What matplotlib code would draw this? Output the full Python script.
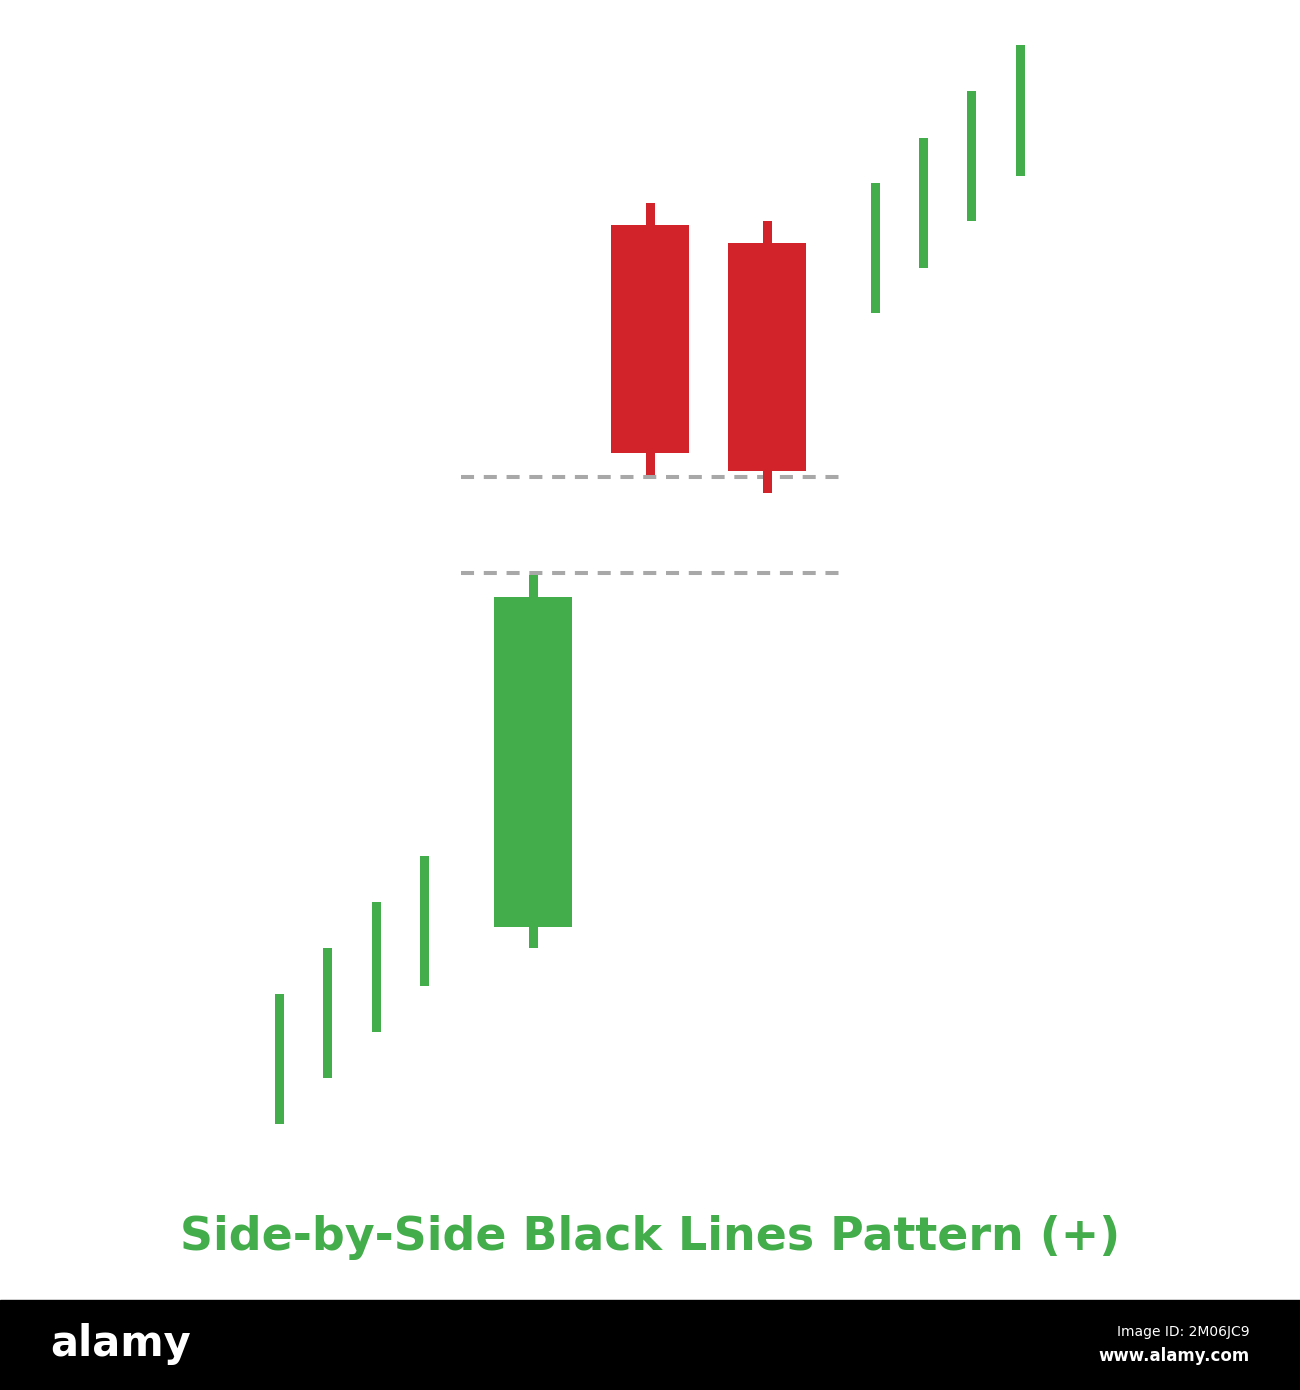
import matplotlib
matplotlib.use("Agg")
import matplotlib.pyplot as plt

# price scale: arbitrary units (higher = up)
trend_in_low = [17.6, 22.2, 26.8, 31.4]
trend_in_high = [30.6, 35.2, 39.8, 44.4]

candle_open = [37.3, 107.5, 105.7]
candle_close = [70.3, 84.7, 82.9]
candle_high = [72.5, 109.7, 107.9]
candle_low = [35.2, 82.5, 80.7]

trend_out_low = [98.7, 103.2, 107.9, 112.4]
trend_out_high = [111.7, 116.2, 120.9, 125.5]

gap_levels = [82.3, 72.7]

title = "Side-by-Side Black Lines Pattern (+)"

GREEN = "#43ac4b"
RED = "#d2222a"
GRAY = "#a8a8a8"

# layout (x positions on the canvas)
x_in = [279, 327, 376, 424]
x_candle = [533, 650, 767]
x_out = [875, 923, 971, 1020]

fig = plt.figure(figsize=(13, 13.9), dpi=100)
ax = fig.add_axes([0, 0, 1, 1])
ax.set_xlim(0, 1300)
ax.set_ylim(-9, 130)
ax.axis("off")

thin = 9
body_w = 78

for xs, lo, hi in [(x_in, trend_in_low, trend_in_high), (x_out, trend_out_low, trend_out_high)]:
    ax.bar(xs, [h - l for h, l in zip(hi, lo)], bottom=lo, width=thin, color=GREEN, linewidth=0)

for x, o, c, h, l in zip(x_candle, candle_open, candle_close, candle_high, candle_low):
    col = GREEN if c >= o else RED
    ax.bar(x, h - l, bottom=l, width=thin, color=col, linewidth=0)
    ax.bar(x, abs(c - o), bottom=min(o, c), width=body_w, color=col, linewidth=0)

lw = 2.9
for lvl in gap_levels:
    ax.hlines(lvl, 461, 840, colors=GRAY, linewidth=lw, zorder=0,
              linestyles=(0, (9.4 / lw, 7.0 / lw)))

ax.text(650, (1300 - 1237) / 10, title, ha="center", va="center",
        fontsize=33, fontweight="bold", color=GREEN, family="DejaVu Sans")

# stock watermark band
ax.axhspan(-9, 0, color="black")
ax.text(50, -4.4, "alamy", ha="left", va="center", color="white", fontsize=30,
        fontweight="bold", family="DejaVu Sans")
ax.text(1250, -3.2, "Image ID: 2M06JC9", ha="right", va="center", color="white",
        fontsize=10, family="DejaVu Sans")
ax.text(1250, -5.6, "www.alamy.com", ha="right", va="center", color="white",
        fontsize=12, fontweight="bold", family="DejaVu Sans")

fig.savefig("out.png", dpi=100)
